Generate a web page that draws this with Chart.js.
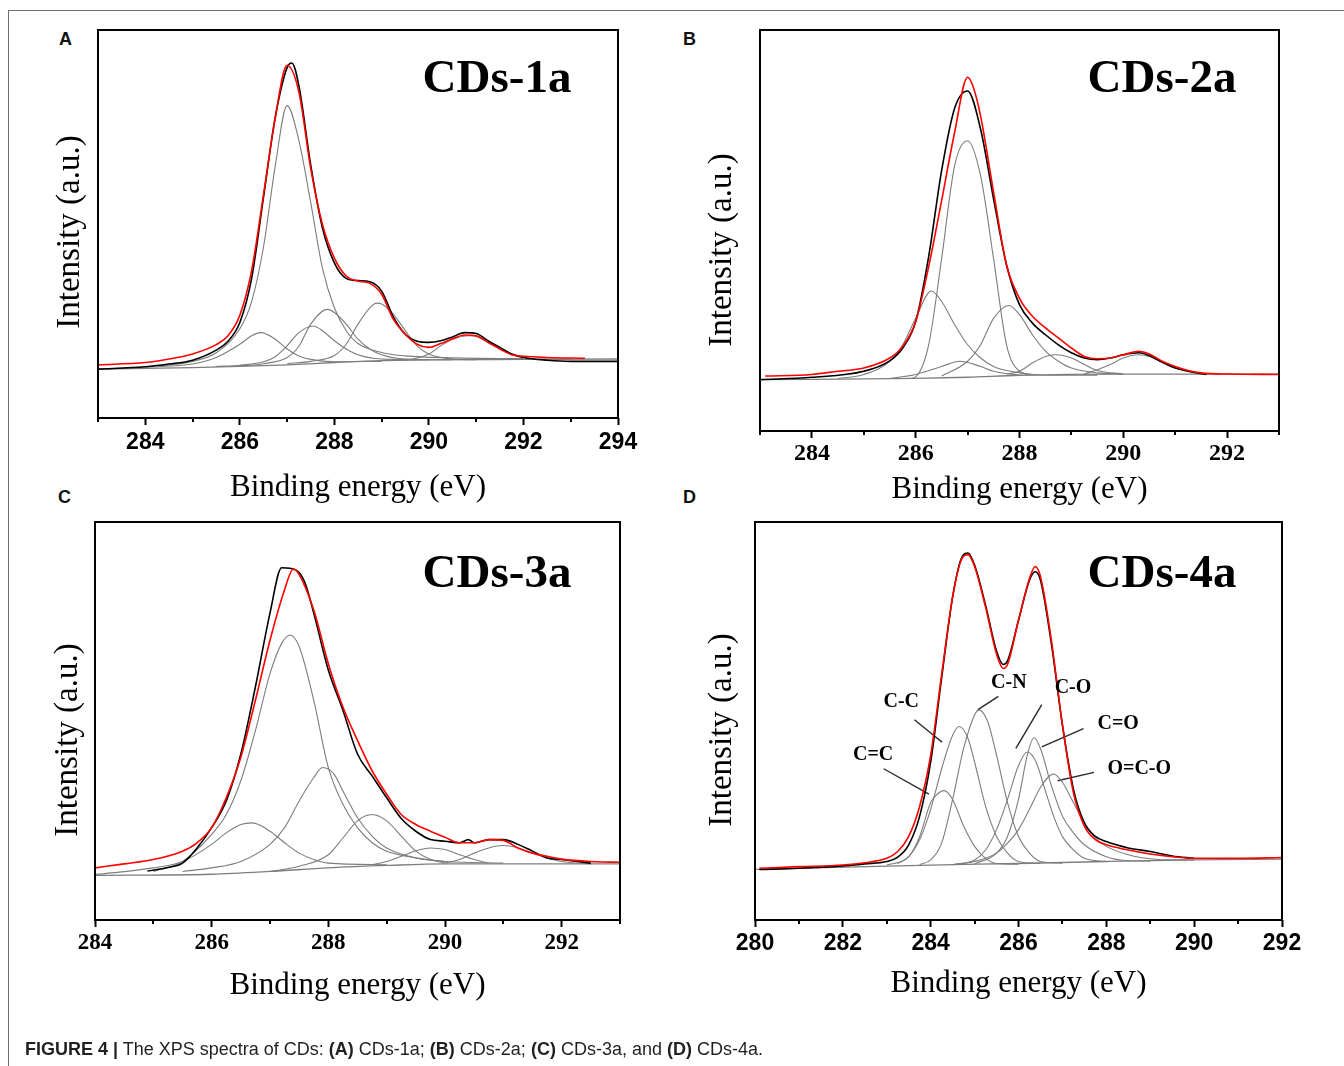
<!DOCTYPE html>
<html lang="en">
<head>
<meta charset="UTF-8">
<title>XPS spectra of CDs</title>
<script src="https://cdn.jsdelivr.net/npm/chart.js@4.4.0/dist/chart.umd.min.js"></script>
<style>
    body {
        margin: 0;
        background: #fff;
        width: 1344px;
        height: 1066px;
        position: relative;
        overflow: hidden;
        font-family: 'Liberation Sans', Arial, sans-serif;
    }
    canvas.panel { position: absolute; left: 0; top: 0; }
    .frame-top { position: absolute; left: 8px; top: 10px; right: 0; border-top: 1px solid #707070; }
    .frame-left { position: absolute; left: 8px; top: 10px; bottom: 0; border-left: 1px solid #707070; }
    .letter { position: absolute; font: bold 18px/18px 'Liberation Sans', Arial, sans-serif; color: #111; }
    .caption { position: absolute; left: 25px; top: 1040px; font-size: 18px; line-height: 18px; color: #231f20; white-space: nowrap; }
</style>
</head>
<body>
<div class="frame-top"></div>
<div class="frame-left"></div>
<div class="letter" style="left:59px;top:30px">A</div>
<div class="letter" style="left:683px;top:30px">B</div>
<div class="letter" style="left:58px;top:488px">C</div>
<div class="letter" style="left:683px;top:488px">D</div>

<canvas class="panel" id="chartA" width="1344" height="1066"></canvas>
<canvas class="panel" id="chartB" width="1344" height="1066"></canvas>
<canvas class="panel" id="chartC" width="1344" height="1066"></canvas>
<canvas class="panel" id="chartD" width="1344" height="1066"></canvas>

<div class="caption"><b>FIGURE 4 |</b> The XPS spectra of CDs: <b>(A)</b> CDs-1a; <b>(B)</b> CDs-2a; <b>(C)</b> CDs-3a, and <b>(D)</b> CDs-4a.</div>

<script>
// binding energy (eV) vs intensity (a.u., 0-100 of the frame height)

// ---- CDs-1a ----
const A_ticks = [284, 286, 288, 290, 292, 294];
const A_minor = [283, 285, 287, 289, 291, 293];
const A_fit = [[283,13.7],[284,14.3],[284.5,15.2],[285,16.5],[285.5,18.9],[285.75,21.2],[286,26.5],[286.25,38.0],[286.5,57.5],[286.75,77.5],[287,90.9],[287.25,84.0],[287.5,64.3],[287.75,49.8],[288,41.2],[288.25,36.6],[288.5,35.3],[288.75,34.7],[289,31.9],[289.25,25.4],[289.5,21.6],[289.75,19.0],[290,18.2],[290.25,19.2],[290.5,20.4],[290.75,21.4],[291,21.2],[291.25,19.5],[291.5,17.8],[291.75,16.3],[292,15.9],[292.5,15.6],[293.3,15.4]];
const A_raw = [[283,12.6],[284,13.2],[284.5,13.9],[285,14.9],[285.5,17.5],[285.75,19.8],[286,24.6],[286.25,36.0],[286.5,56.8],[286.75,77.5],[287,90.3],[287.1,91.5],[287.25,85.6],[287.5,65.2],[287.75,48.9],[288,40.0],[288.25,36.0],[288.5,35.4],[288.75,35.1],[289,32.7],[289.25,26.0],[289.5,21.6],[289.75,19.8],[290,19.5],[290.25,19.9],[290.5,20.9],[290.75,22.0],[291,21.8],[291.25,19.9],[291.5,18.2],[291.75,16.5],[292,15.6],[292.5,14.9],[293,14.6],[294,14.6]];
const A_bg = [[283,12.6],[285,13.0],[286,13.3],[287,13.7],[288,14.3],[289,14.8],[290,15.0],[292,15.1],[294,15.2]];
const A_p1 = [[283,12.6],[284,13.2],[285,14.6],[285.5,16.8],[286,23.0],[286.25,30.0],[286.5,44.0],[286.75,65.0],[287,80.5],[287.25,71.5],[287.5,55.5],[287.75,38.5],[288,28.4],[288.25,22.5],[288.5,19.2],[289,16.9],[289.5,16.0],[290.5,15.5],[292,15.3]];
const A_p2 = [[284,13.1],[285,13.9],[285.5,15.6],[286,19.0],[286.25,21.2],[286.45,22.0],[286.75,20.3],[287,17.8],[287.25,16.0],[287.5,15.1],[288,14.5],[289,14.6]];
const A_p3 = [[285.5,13.3],[286,13.6],[286.5,14.5],[286.75,15.8],[287,18.6],[287.25,22.0],[287.55,23.7],[287.75,22.5],[288,19.9],[288.25,17.8],[288.5,16.3],[289,15.2],[290,15.0]];
const A_p4 = [[286,13.4],[286.5,14.0],[287,15.6],[287.25,18.5],[287.5,24.2],[287.85,28.0],[288,27.2],[288.25,24.2],[288.5,20.3],[288.75,17.8],[289,16.3],[289.5,15.2],[290.5,15.0]];
const A_p5 = [[287,14.0],[287.5,14.6],[288,16.1],[288.25,19.0],[288.5,24.2],[288.75,28.4],[288.9,29.6],[289,29.4],[289.25,26.7],[289.5,22.5],[289.75,18.6],[290,16.5],[290.5,15.2],[291,15.0]];
const A_p6 = [[289,14.9],[289.5,15.0],[290,16.5],[290.25,18.6],[290.5,20.3],[290.85,21.2],[291,21.0],[291.25,19.5],[291.5,17.8],[291.75,16.5],[292,15.6],[292.5,15.1],[293,15.1]];

// ---- CDs-2a ----
const B_ticks = [284, 286, 288, 290, 292];
const B_minor = [283, 285, 287, 289, 291, 293];
const B_fit = [[283.1,13.7],[284,14.1],[284.5,14.9],[285,15.7],[285.5,18.2],[285.75,21.1],[286,27.3],[286.25,41.0],[286.5,57.5],[286.75,74.5],[287,88.2],[287.1,86.1],[287.25,78.6],[287.5,59.6],[287.75,41.4],[288,33.1],[288.25,28.6],[288.5,25.7],[288.75,23.2],[289,20.7],[289.25,18.6],[289.5,18.0],[289.75,18.2],[290,19.0],[290.3,19.9],[290.5,19.2],[290.75,17.4],[291,16.1],[291.25,15.1],[291.5,14.5],[292,14.2],[293,14.1]];
const B_raw = [[283,12.8],[284,13.4],[285,14.9],[285.5,17.5],[285.75,20.7],[286,27.3],[286.25,43.5],[286.5,65.0],[286.75,80.5],[287,84.8],[287.25,75.3],[287.5,57.9],[287.75,41.4],[288,31.5],[288.25,26.9],[288.5,24.0],[288.75,21.5],[289,19.5],[289.25,18.2],[289.5,17.8],[289.75,18.2],[290,19.0],[290.3,19.5],[290.5,18.8],[290.75,17.2],[291,15.7],[291.25,14.9],[291.6,14.1]];
const B_bg = [[283,12.8],[286,13.1],[287,13.4],[288,13.9],[290,14.2],[293,14.2]];
const B_p1 = [[285.9,13.1],[286,13.5],[286.25,21.5],[286.5,43.0],[286.75,66.2],[287,72.4],[287.25,63.7],[287.5,43.0],[287.75,21.5],[288,14.9],[288.25,14.0]];
const B_p2 = [[284.5,13.1],[285,14.1],[285.5,17.4],[285.75,21.5],[286,28.1],[286.3,34.9],[286.5,32.3],[286.75,26.5],[287,21.5],[287.25,18.2],[287.5,16.1],[288,14.5],[288.5,13.9],[289.5,13.9]];
const B_p3 = [[285.5,13.1],[286,14.1],[286.5,16.1],[286.85,17.4],[287.25,16.1],[287.5,14.9],[288,13.9]];
const B_p4 = [[286.5,13.7],[287,17.4],[287.25,21.5],[287.5,28.1],[287.8,31.3],[288,29.0],[288.25,24.0],[288.5,19.9],[288.75,17.4],[289,15.7],[289.5,14.5],[290,14.2]];
const B_p5 = [[287.75,14.2],[288,14.9],[288.25,17.0],[288.5,18.6],[288.7,19.0],[289,18.2],[289.25,16.6],[289.5,15.1],[290,14.2]];
const B_p6 = [[289.25,14.2],[289.5,15.3],[289.75,16.6],[290,18.2],[290.3,19.0],[290.5,18.6],[290.75,17.0],[291,15.7],[291.25,14.9],[291.5,14.2]];

// ---- CDs-3a ----
const C_ticks = [284, 286, 288, 290, 292];
const C_minor = [285, 287, 289, 291, 293];
const C_fit = [[284,13.1],[284.5,14.1],[285,15.2],[285.5,17.3],[285.75,19.4],[286,23.2],[286.25,30.7],[286.5,40.9],[286.75,55.2],[287,70.3],[287.25,83.0],[287.4,88.2],[287.5,86.8],[287.75,77.9],[288,64.4],[288.25,53.5],[288.5,45.1],[288.75,37.5],[289,31.6],[289.25,26.5],[289.5,24.0],[289.75,22.3],[290,20.8],[290.25,19.4],[290.5,19.4],[290.75,20.2],[291,20.0],[291.25,18.1],[291.5,16.8],[291.75,16.0],[292,15.3],[292.5,14.7],[293,14.5]];
const C_raw = [[284.9,12.3],[285.25,13.2],[285.5,14.3],[285.75,18.1],[286,23.2],[286.25,29.9],[286.5,41.7],[286.75,58.6],[287,77.1],[287.2,88.5],[287.45,87.9],[287.6,84.7],[287.75,77.1],[288,62.8],[288.25,52.7],[288.5,41.7],[288.75,36.2],[289,30.7],[289.25,25.5],[289.5,22.3],[289.75,20.2],[290,19.8],[290.25,19.4],[290.4,20.2],[290.5,19.4],[290.75,20.2],[291,20.2],[291.25,19.0],[291.5,17.3],[291.75,15.6],[292,15.2],[292.5,14.3]];
const C_bg = [[284,11.2],[286,11.5],[287,12.2],[288,13.1],[289,13.7],[290,14.1],[293,14.1]];
const C_p1 = [[285,12.2],[285.5,14.7],[286,21.5],[286.25,26.5],[286.5,35.0],[286.75,47.6],[287,61.9],[287.2,69.5],[287.35,71.6],[287.5,68.7],[287.75,55.2],[288,38.3],[288.25,29.1],[288.5,23.2],[288.75,19.4],[289,17.3],[289.5,15.6],[290,14.7],[291,14.3]];
const C_p2 = [[284,11.4],[285,13.1],[285.5,14.7],[286,19.0],[286.25,21.9],[286.5,24.0],[286.7,24.4],[287,22.3],[287.25,19.4],[287.5,16.8],[287.75,15.2],[288,14.3],[289,13.9]];
const C_p3 = [[285.5,12.2],[286,13.1],[286.5,14.7],[287,19.0],[287.25,23.2],[287.5,29.9],[287.75,35.8],[287.9,38.3],[288.1,36.6],[288.25,32.4],[288.5,25.7],[288.75,21.1],[289,18.1],[289.5,15.6],[290,14.7]];
const C_p4 = [[287,12.2],[287.5,13.5],[288,16.4],[288.25,20.6],[288.5,24.9],[288.75,26.5],[289,24.9],[289.25,21.1],[289.5,17.3],[289.75,15.2],[290,14.3]];
const C_p5 = [[288.75,13.9],[289,14.7],[289.25,16.0],[289.5,17.4],[289.75,18.1],[290,17.7],[290.25,16.4],[290.5,15.2],[290.75,14.3]];
const C_p6 = [[290,14.3],[290.25,15.2],[290.5,16.8],[290.75,18.1],[291,18.7],[291.25,18.1],[291.5,16.8],[291.75,15.6],[292,14.7],[292.5,14.1]];

// ---- CDs-4a ----
const D_ticks = [280, 282, 284, 286, 288, 290, 292];
const D_minor = [281, 283, 285, 287, 289, 291];
const D_fit = [[280.1,13.0],[281,13.4],[282,13.8],[282.5,14.4],[283,15.5],[283.25,17.2],[283.5,21.0],[283.75,28.6],[284,41.4],[284.25,61.7],[284.5,81.2],[284.7,90.5],[284.85,91.8],[285,88.8],[285.25,78.6],[285.5,66.8],[285.65,63.2],[285.75,64.2],[286,75.3],[286.25,85.8],[286.38,88.8],[286.5,86.3],[286.75,70.2],[287,49.0],[287.25,32.0],[287.5,23.6],[287.75,20.2],[288,18.9],[288.5,17.6],[289,16.6],[289.5,15.9],[290,15.5],[291,15.5],[292,15.7]];
const D_raw = [[280.1,12.7],[281,13.0],[282,13.6],[282.5,14.1],[283,14.7],[283.25,15.8],[283.5,18.9],[283.75,26.1],[284,39.7],[284.25,60.8],[284.5,81.2],[284.7,90.9],[284.85,92.2],[285,89.2],[285.25,79.1],[285.5,67.6],[285.65,64.2],[285.75,65.1],[286,75.3],[286.25,85.4],[286.38,87.5],[286.5,85.4],[286.75,69.3],[287,49.0],[287.25,32.9],[287.5,24.4],[287.75,21.0],[288,19.7],[288.5,18.1],[289,17.2],[289.5,16.1],[290,15.5]];
const D_bg = [[280,12.7],[284,13.8],[286,14.2],[288,14.7],[290,15.1],[292,15.3]];
const D_CdC = [[283,13.8],[283.5,15.9],[283.75,21.0],[284,29.5],[284.15,31.6],[284.3,32.5],[284.5,30.3],[284.75,23.6],[285,18.5],[285.25,15.5],[285.5,14.2],[286,14.0]];
const D_CC = [[283.25,14.2],[283.5,15.9],[283.75,20.2],[284,27.8],[284.25,38.0],[284.5,46.4],[284.65,48.6],[284.85,45.6],[285,39.7],[285.25,28.6],[285.5,21.0],[285.75,16.8],[286,14.7],[286.5,14.2]];
const D_CN = [[283.75,13.9],[284,15.1],[284.25,19.3],[284.5,30.3],[284.75,43.1],[285,51.5],[285.1,52.8],[285.3,49.8],[285.5,41.4],[285.75,29.5],[286,21.0],[286.25,16.8],[286.5,14.7],[287,14.3]];
const D_CO = [[284.5,13.9],[285,15.1],[285.25,17.6],[285.5,22.7],[285.75,30.3],[286,38.8],[286.2,42.2],[286.4,39.7],[286.6,32.9],[286.8,26.1],[287,21.0],[287.25,17.6],[287.5,15.5],[288,14.7]];
const D_CdO = [[285,14.1],[285.5,16.8],[285.75,21.0],[286,30.3],[286.2,41.4],[286.35,45.8],[286.5,43.1],[286.75,33.7],[287,26.1],[287.25,21.9],[287.5,18.9],[288,15.9],[288.5,14.9],[289,14.8]];
const D_OCO = [[284.5,13.9],[285,14.7],[285.5,16.8],[285.75,19.3],[286,22.7],[286.25,27.8],[286.5,33.3],[286.8,36.7],[287,34.6],[287.25,29.5],[287.5,24.4],[287.75,20.6],[288,18.5],[288.5,16.4],[289,15.4],[289.5,15.1],[290,15.1]];
// peak names, where the name sits and its leader line (eV, intensity)
const D_names = ['C=C', 'C-C', 'C-N', 'C-O', 'C=O', 'O=C-O'];
const D_nameAt = [[282.69,41.4],[283.33,54.9],[285.78,59.6],[287.24,58.3],[288.27,49.2],[288.75,38.1]];
const D_leaders = [
    [[282.93,38.0],[283.96,31.6]],
    [[283.63,50.3],[284.26,44.7]],
    [[285.54,56.2],[285.07,52.8]],
    [[286.53,54.1],[285.94,43.1]],
    [[287.48,48.1],[286.53,43.5]],
    [[287.72,37.1],[286.89,35.0]]
];

const SERIF = "'Liberation Serif', 'Times New Roman', serif";
const SANS = "'Liberation Sans', Arial, sans-serif";
const GREY = '#7d7d7d';

function curve(data, color, width) {
    return {
        data: data,
        borderColor: color,
        borderWidth: width,
        pointRadius: 0,
        fill: false,
        cubicInterpolationMode: 'monotone'
    };
}

// box, minor ticks, sample name, y title and peak names
const decor = {
    id: 'decor',
    afterDraw(chart, args, o) {
        const { ctx, chartArea: a, scales } = chart;
        ctx.save();
        ctx.strokeStyle = '#000';
        ctx.lineWidth = 2;
        o.minor.forEach(v => {
            const x = Math.round(scales.x.getPixelForValue(v));
            ctx.beginPath();
            ctx.moveTo(x, a.bottom);
            ctx.lineTo(x, a.bottom + 4);
            ctx.stroke();
        });
        ctx.strokeRect(a.left, a.top, a.right - a.left, a.bottom - a.top);

        ctx.fillStyle = '#000';
        ctx.textAlign = 'center';
        ctx.textBaseline = 'alphabetic';
        ctx.font = 'bold 47px ' + SERIF;
        ctx.fillText(o.name, o.nameX, o.nameY);

        if (o.names) {
            ctx.font = 'bold 20px ' + SERIF;
            ctx.textBaseline = 'middle';
            o.names.forEach((t, i) => {
                const p = o.nameAt[i];
                ctx.fillText(t, scales.x.getPixelForValue(p[0]), scales.y.getPixelForValue(p[1]));
            });
        }

        ctx.translate(o.yTitleX, o.yTitleY);
        ctx.rotate(-Math.PI / 2);
        ctx.font = '33px ' + SERIF;
        ctx.textBaseline = 'middle';
        ctx.fillText('Intensity (a.u.)', 0, 0);
        ctx.restore();
    }
};

function makePanel(id, p) {
    const sets = [curve(p.fit, '#ff0000', 1.6), curve(p.raw, '#000000', 1.6)];
    p.peaks.forEach(c => sets.push(curve(c, GREY, 1.1)));
    sets.push(curve(p.bg, GREY, 1.3));
    (p.leaders || []).forEach(l => sets.push(curve(l, '#2a2a2a', 1.4)));

    new Chart(document.getElementById(id), {
        type: 'line',
        data: { datasets: sets },
        plugins: [decor],
        options: {
            responsive: false,
            animation: false,
            events: [],
            layout: {
                padding: { left: p.area[0], top: p.area[1], right: 1344 - p.area[2], bottom: 1066 - p.area[3] - 100 }
            },
            plugins: {
                legend: { display: false },
                tooltip: { enabled: false },
                decor: p.decor
            },
            scales: {
                x: {
                    type: 'linear',
                    min: p.xmin,
                    max: p.xmax,
                    afterBuildTicks: s => { s.ticks = p.ticks.map(v => ({ value: v })); },
                    afterFit: s => { s.height = 100; },
                    border: { display: false },
                    grid: { display: true, drawOnChartArea: false, drawTicks: true, tickLength: 7, tickWidth: 2, tickColor: '#000' },
                    ticks: { font: p.tickFont, color: '#000', padding: p.tickPad, maxRotation: 0, autoSkip: false },
                    title: {
                        display: true,
                        text: 'Binding energy (eV)',
                        color: '#000',
                        font: { family: SERIF, size: 31 },
                        padding: { top: 0, bottom: p.titlePad }
                    }
                },
                y: { display: false, min: 0, max: 100 }
            }
        }
    });
}

makePanel('chartA', {
    fit: A_fit, raw: A_raw, bg: A_bg, peaks: [A_p1, A_p2, A_p3, A_p4, A_p5, A_p6],
    xmin: 283, xmax: 294, ticks: A_ticks,
    area: [98, 30, 618, 418],
    tickFont: { family: SANS, size: 23, weight: 'bold' }, tickPad: 4, titlePad: 12,
    decor: { minor: A_minor, name: 'CDs-1a', nameX: 497, nameY: 92, yTitleX: 70, yTitleY: 232 }
});
makePanel('chartB', {
    fit: B_fit, raw: B_raw, bg: B_bg, peaks: [B_p1, B_p2, B_p3, B_p4, B_p5, B_p6],
    xmin: 283, xmax: 293, ticks: B_ticks,
    area: [760, 30, 1279, 431],
    tickFont: { family: SERIF, size: 24, weight: 'bold' }, tickPad: 1, titlePad: 23,
    decor: { minor: B_minor, name: 'CDs-2a', nameX: 1162, nameY: 92, yTitleX: 722, yTitleY: 250 }
});
makePanel('chartC', {
    fit: C_fit, raw: C_raw, bg: C_bg, peaks: [C_p1, C_p2, C_p3, C_p4, C_p5, C_p6],
    xmin: 284, xmax: 293, ticks: C_ticks,
    area: [95, 522, 620, 920],
    tickFont: { family: SERIF, size: 23, weight: 'bold' }, tickPad: 2, titlePad: 16,
    decor: { minor: C_minor, name: 'CDs-3a', nameX: 497, nameY: 587, yTitleX: 68, yTitleY: 740 }
});
makePanel('chartD', {
    fit: D_fit, raw: D_raw, bg: D_bg, peaks: [D_CdC, D_CC, D_CN, D_CO, D_CdO, D_OCO],
    leaders: D_leaders,
    xmin: 280, xmax: 292, ticks: D_ticks,
    area: [755, 522, 1282, 920],
    tickFont: { family: SANS, size: 23, weight: 'bold' }, tickPad: 3, titlePad: 18,
    decor: { minor: D_minor, name: 'CDs-4a', nameX: 1162, nameY: 587, yTitleX: 722, yTitleY: 730,
             names: D_names, nameAt: D_nameAt }
});
</script>
</body>
</html>
